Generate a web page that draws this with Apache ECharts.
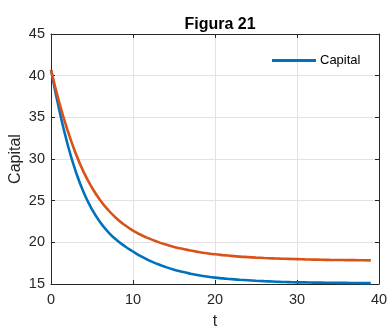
<!DOCTYPE html>
<html>
<head>
<meta charset="utf-8">
<script src="https://cdn.jsdelivr.net/npm/echarts@6/dist/echarts.min.js"></script>
<style>
  html, body { margin: 0; padding: 0; background: #ffffff; }
  #chart { width: 387px; height: 327px; }
</style>
</head>
<body>
<div id="chart"></div>
<script>
// Time steps (t) and the two capital paths
const t = [0,1,2,3,4,5,6,7,8,9,10,11,12,13,14,15,16,17,18,19,20,21,22,23,24,25,26,27,28,29,30,31,32,33,34,35,36,37,38,39];
const capitalA = [40.7,35.9,31.85,28.55,25.95,23.95,22.4,21.2,20.27,19.53,18.9,18.31,17.81,17.39,17.03,16.72,16.46,16.24,16.05,15.89,15.76,15.67,15.58,15.51,15.45,15.39,15.34,15.30,15.26,15.23,15.20,15.19,15.17,15.16,15.15,15.14,15.13,15.12,15.11,15.10];
const capitalB = [40.7,36.8,33.5,30.7,28.4,26.55,25.05,23.85,22.87,22.07,21.4,20.88,20.44,20.06,19.73,19.45,19.22,19.01,18.84,18.69,18.56,18.46,18.37,18.29,18.23,18.17,18.12,18.08,18.04,18.01,17.98,17.95,17.93,17.91,17.89,17.88,17.87,17.86,17.85,17.84];

// Axis ranges and tick spacing
const xTicks = [0, 10, 20, 30, 40];
const yTicks = [15, 20, 25, 30, 35, 40, 45];

const toPairs = (xs, ys) => xs.map((x, i) => [x, ys[i]]);

const FONT = 'Liberation Sans, Arial, Helvetica, sans-serif';
const INK = '#262626';

const chart = echarts.init(document.getElementById('chart'), null, { renderer: 'canvas' });

const baseAxis = {
  type: 'value',
  axisLine: { show: true, onZero: false, lineStyle: { color: INK, width: 1 } },
  axisTick: { show: true, inside: true, length: 4, lineStyle: { color: INK } },
  splitLine: { show: false },
  axisLabel: { show: false }
};

chart.setOption({
  animation: false,
  backgroundColor: '#ffffff',
  title: {
    text: 'Figura 21',
    left: 215,
    top: 12,
    textAlign: 'center',
    textStyle: { fontFamily: FONT, fontSize: 16, fontWeight: 'bold', color: '#000000' }
  },
  legend: {
    data: ['Capital'],
    left: 267,
    top: 49,
    icon: 'rect',
    itemWidth: 44,
    itemHeight: 3,
    itemGap: 5,
    textStyle: { fontFamily: FONT, fontSize: 13, color: '#000000', padding: [0, 0, 0, -1] }
  },
  grid: { left: 51, right: 8, top: 34, bottom: 43, containLabel: false, outerBoundsMode: 'none' },
  xAxis: [
    Object.assign({}, baseAxis, {
      position: 'bottom',
      min: xTicks[0], max: xTicks[xTicks.length - 1], interval: 10,
      name: 't',
      nameLocation: 'middle',
      nameGap: 30,
      nameMoveOverlap: false,
      nameTextStyle: { fontFamily: FONT, fontSize: 16, color: INK },
      splitLine: { show: true, lineStyle: { color: '#e3e3e3', width: 1 } },
      axisLabel: { show: true, margin: 8, fontFamily: FONT, fontSize: 14.5, color: INK }
    }),
    Object.assign({}, baseAxis, {
      position: 'top',
      min: xTicks[0], max: xTicks[xTicks.length - 1], interval: 10
    })
  ],
  yAxis: [
    Object.assign({}, baseAxis, {
      position: 'left',
      min: yTicks[0], max: yTicks[yTicks.length - 1], interval: 5,
      name: 'Capital',
      nameLocation: 'middle',
      nameGap: 27,
      nameMoveOverlap: false,
      nameTextStyle: { fontFamily: FONT, fontSize: 16, color: INK },
      splitLine: { show: true, lineStyle: { color: '#e3e3e3', width: 1 } },
      axisLabel: { show: true, margin: 6, fontFamily: FONT, fontSize: 14.5, color: INK }
    }),
    Object.assign({}, baseAxis, {
      position: 'right',
      min: yTicks[0], max: yTicks[yTicks.length - 1], interval: 5
    })
  ],
  series: [
    {
      name: 'Capital',
      type: 'line',
      data: toPairs(t, capitalA),
      smooth: true,
      showSymbol: false,
      color: '#0072BD',
      lineStyle: { width: 2.6, color: '#0072BD' },
      z: 3
    },
    {
      name: 'Capital (B)',
      type: 'line',
      data: toPairs(t, capitalB),
      smooth: true,
      showSymbol: false,
      color: '#D95319',
      lineStyle: { width: 2.6, color: '#D95319' },
      z: 4
    }
  ]
});
</script>
</body>
</html>
